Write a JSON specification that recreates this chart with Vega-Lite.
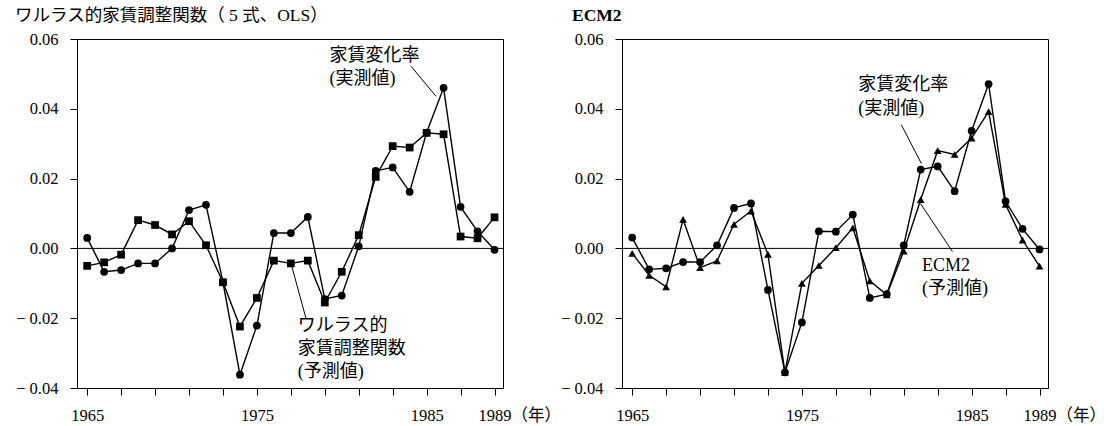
{
  "$schema": "https://vega.github.io/schema/vega-lite/v6.json",
  "padding": {"left": 14, "top": 6, "right": 2, "bottom": 2},
  "background": "white",
  "datasets": {
    "walras": [
      {"year": 1965, "actual": 0.0030, "pred": -0.0050},
      {"year": 1966, "actual": -0.0067, "pred": -0.0040},
      {"year": 1967, "actual": -0.0062, "pred": -0.0018},
      {"year": 1968, "actual": -0.0043, "pred": 0.0081},
      {"year": 1969, "actual": -0.0043, "pred": 0.0067},
      {"year": 1970, "actual": 0.0000, "pred": 0.0040},
      {"year": 1971, "actual": 0.0110, "pred": 0.0078},
      {"year": 1972, "actual": 0.0125, "pred": 0.0009},
      {"year": 1973, "actual": -0.0097, "pred": -0.0097},
      {"year": 1974, "actual": -0.0362, "pred": -0.0224},
      {"year": 1975, "actual": -0.0221, "pred": -0.0142},
      {"year": 1976, "actual": 0.0044, "pred": -0.0035},
      {"year": 1977, "actual": 0.0044, "pred": -0.0043},
      {"year": 1978, "actual": 0.0090, "pred": -0.0035},
      {"year": 1979, "actual": -0.0145, "pred": -0.0155},
      {"year": 1980, "actual": -0.0135, "pred": -0.0067},
      {"year": 1981, "actual": 0.0006, "pred": 0.0038},
      {"year": 1982, "actual": 0.0222, "pred": 0.0205},
      {"year": 1983, "actual": 0.0232, "pred": 0.0293},
      {"year": 1984, "actual": 0.0162, "pred": 0.0289},
      {"year": 1985, "actual": 0.0332, "pred": 0.0331},
      {"year": 1986, "actual": 0.0460, "pred": 0.0327},
      {"year": 1987, "actual": 0.0119, "pred": 0.0034},
      {"year": 1988, "actual": 0.0049, "pred": 0.0029},
      {"year": 1989, "actual": -0.0004, "pred": 0.0089}
    ],
    "ecm": [
      {"year": 1965, "actual": 0.0031, "pred": -0.0014},
      {"year": 1966, "actual": -0.0060, "pred": -0.0077},
      {"year": 1967, "actual": -0.0057, "pred": -0.0110},
      {"year": 1968, "actual": -0.0039, "pred": 0.0083},
      {"year": 1969, "actual": -0.0039, "pred": -0.0055},
      {"year": 1970, "actual": 0.0009, "pred": -0.0036},
      {"year": 1971, "actual": 0.0116, "pred": 0.0069},
      {"year": 1972, "actual": 0.0129, "pred": 0.0107},
      {"year": 1973, "actual": -0.0119, "pred": -0.0017},
      {"year": 1974, "actual": -0.0355, "pred": -0.0355},
      {"year": 1975, "actual": -0.0212, "pred": -0.0100},
      {"year": 1976, "actual": 0.0049, "pred": -0.0049},
      {"year": 1977, "actual": 0.0048, "pred": 0.0002},
      {"year": 1978, "actual": 0.0097, "pred": 0.0059},
      {"year": 1979, "actual": -0.0142, "pred": -0.0093},
      {"year": 1980, "actual": -0.0131, "pred": -0.0133},
      {"year": 1981, "actual": 0.0009, "pred": -0.0008},
      {"year": 1982, "actual": 0.0226, "pred": 0.0140},
      {"year": 1983, "actual": 0.0235, "pred": 0.0280},
      {"year": 1984, "actual": 0.0164, "pred": 0.0269},
      {"year": 1985, "actual": 0.0337, "pred": 0.0316},
      {"year": 1986, "actual": 0.0471, "pred": 0.0392},
      {"year": 1987, "actual": 0.0135, "pred": 0.0126},
      {"year": 1988, "actual": 0.0056, "pred": 0.0024},
      {"year": 1989, "actual": -0.0003, "pred": -0.0051}
    ],
    "walrasNotes": [
      {"year": 1979.28, "value": 0.0552, "label": "家賃変化率"},
      {"year": 1979.28, "value": 0.0484, "label": "(実測値)"},
      {"year": 1977.41, "value": -0.0223, "label": "ワルラス的"},
      {"year": 1977.41, "value": -0.0288, "label": "家賃調整関数"},
      {"year": 1977.41, "value": -0.0353, "label": "(予測値)"}
    ],
    "walrasLeaders": [
      {"year": 1984.08, "value": 0.0522, "year2": 1985.55, "value2": 0.0436},
      {"year": 1977.02, "value": -0.0045, "year2": 1977.9, "value2": -0.0202}
    ],
    "ecmNotes": [
      {"year": 1978.32, "value": 0.0467, "label": "家賃変化率"},
      {"year": 1978.32, "value": 0.0400, "label": "(実測値)"},
      {"year": 1982.08, "value": -0.0049, "label": "ECM2"},
      {"year": 1982.08, "value": -0.0117, "label": "(予測値)"}
    ],
    "ecmLeaders": [
      {"year": 1980.86, "value": 0.0354, "year2": 1982.04, "value2": 0.0243},
      {"year": 1981.98, "value": 0.0129, "year2": 1983.87, "value2": -0.0009}
    ]
  },
  "spacing": 119,
  "bounds": "flush",
  "hconcat": [
    {
      "width": 426,
      "height": 349,
      "title": {"text": "ワルラス的家賃調整関数（ 5 式、OLS）", "frame": "group", "dx": -62, "offset": 7},
      "encoding": {
        "x": {"field": "year", "type": "quantitative", "scale": {"domain": [1964.4, 1989.5], "nice": false, "zero": false},
              "axis": {"values": [1965, 1967, 1969, 1971, 1973, 1975, 1977, 1979, 1981, 1983, 1985, 1987, 1989],
                       "labelExpr": "datum.value == 1965 || datum.value == 1975 || datum.value == 1985 || datum.value == 1989 ? '' + datum.value : ''",
                       "title": "（年）", "titleX": 434, "titleY": 27, "titleAlign": "left", "titleBaseline": "middle"}},
        "y": {"field": "value", "type": "quantitative", "scale": {"domain": [-0.04, 0.06], "nice": false, "zero": false},
              "axis": {"values": [-0.04, -0.02, 0, 0.02, 0.04, 0.06],
                       "labelExpr": "datum.value < -0.0001 ? '− ' + format(-datum.value, '.2f') : format(abs(datum.value), '.2f')",
                       "title": null}}
      },
      "layer": [
        {
          "data": {"name": "walras"},
          "transform": [{"fold": ["actual", "pred"], "as": ["series", "value"]}],
          "mark": {"type": "line", "color": "black", "strokeWidth": 1.4},
          "encoding": {"detail": {"field": "series"}}
        },
        {
          "data": {"name": "walras"},
          "transform": [{"fold": ["actual", "pred"], "as": ["series", "value"]}],
          "mark": {"type": "point", "filled": true, "color": "black", "opacity": 1, "size": 60},
          "encoding": {
            "shape": {"field": "series", "type": "nominal", "scale": {"domain": ["actual", "pred"], "range": ["circle", "square"]}, "legend": null}
          }
        },
        {
          "data": {"values": [{"year": 1964.4, "value": 0}, {"year": 1989.5, "value": 0}]},
          "mark": {"type": "line", "color": "black", "strokeWidth": 1},
          "encoding": {}
        },
        {
          "data": {"name": "walrasLeaders"},
          "mark": {"type": "rule", "color": "black", "strokeWidth": 1},
          "encoding": {
            "x2": {"field": "year2"},
            "y2": {"field": "value2"}
          }
        },
        {
          "data": {"name": "walrasNotes"},
          "mark": {"type": "text", "align": "left", "baseline": "middle", "fontSize": 18, "font": "Liberation Serif, Noto Sans CJK JP", "color": "black"},
          "encoding": {
            "text": {"field": "label"}
          }
        }
      ]
    },
    {
      "width": 426,
      "height": 349,
      "title": {"text": "ECM2", "frame": "group", "dx": -50, "offset": 7, "fontWeight": "bold"},
      "encoding": {
        "x": {"field": "year", "type": "quantitative", "scale": {"domain": [1964.4, 1989.5], "nice": false, "zero": false},
              "axis": {"values": [1965, 1967, 1969, 1971, 1973, 1975, 1977, 1979, 1981, 1983, 1985, 1987, 1989],
                       "labelExpr": "datum.value == 1965 || datum.value == 1975 || datum.value == 1985 || datum.value == 1989 ? '' + datum.value : ''",
                       "title": "（年）", "titleX": 434, "titleY": 27, "titleAlign": "left", "titleBaseline": "middle"}},
        "y": {"field": "value", "type": "quantitative", "scale": {"domain": [-0.04, 0.06], "nice": false, "zero": false},
              "axis": {"values": [-0.04, -0.02, 0, 0.02, 0.04, 0.06],
                       "labelExpr": "datum.value < -0.0001 ? '− ' + format(-datum.value, '.2f') : format(abs(datum.value), '.2f')",
                       "title": null}}
      },
      "layer": [
        {
          "data": {"name": "ecm"},
          "transform": [{"fold": ["actual", "pred"], "as": ["series", "value"]}],
          "mark": {"type": "line", "color": "black", "strokeWidth": 1.4},
          "encoding": {"detail": {"field": "series"}}
        },
        {
          "data": {"name": "ecm"},
          "transform": [{"fold": ["actual", "pred"], "as": ["series", "value"]}],
          "mark": {"type": "point", "filled": true, "color": "black", "opacity": 1, "size": 60},
          "encoding": {
            "shape": {"field": "series", "type": "nominal", "scale": {"domain": ["actual", "pred"], "range": ["circle", "triangle-up"]}, "legend": null}
          }
        },
        {
          "data": {"values": [{"year": 1964.4, "value": 0}, {"year": 1989.5, "value": 0}]},
          "mark": {"type": "line", "color": "black", "strokeWidth": 1},
          "encoding": {}
        },
        {
          "data": {"name": "ecmLeaders"},
          "mark": {"type": "rule", "color": "black", "strokeWidth": 1},
          "encoding": {
            "x2": {"field": "year2"},
            "y2": {"field": "value2"}
          }
        },
        {
          "data": {"name": "ecmNotes"},
          "mark": {"type": "text", "align": "left", "baseline": "middle", "fontSize": 18, "font": "Liberation Serif, Noto Sans CJK JP", "color": "black"},
          "encoding": {
            "text": {"field": "label"}
          }
        }
      ]
    }
  ],
  "resolve": {"scale": {"shape": "independent"}},
  "config": {
    "view": {"stroke": "black", "strokeWidth": 1},
    "title": {"font": "Liberation Serif, Noto Sans CJK JP", "fontSize": 17.5, "color": "black", "anchor": "start", "fontWeight": "normal"},
    "axis": {
      "grid": false,
      "domainColor": "black",
      "domainWidth": 1,
      "tickColor": "black",
      "tickWidth": 1,
      "tickSize": 7,
      "labelColor": "black",
      "labelFont": "Liberation Serif",
      "labelFontSize": 16.5,
      "titleFont": "Liberation Serif, Noto Sans CJK JP",
      "titleFontSize": 16.5,
      "titleFontWeight": "normal",
      "titleColor": "black"
    },
    "axisX": {"labelPadding": 12},
    "axisY": {"labelPadding": 12}
  }
}
